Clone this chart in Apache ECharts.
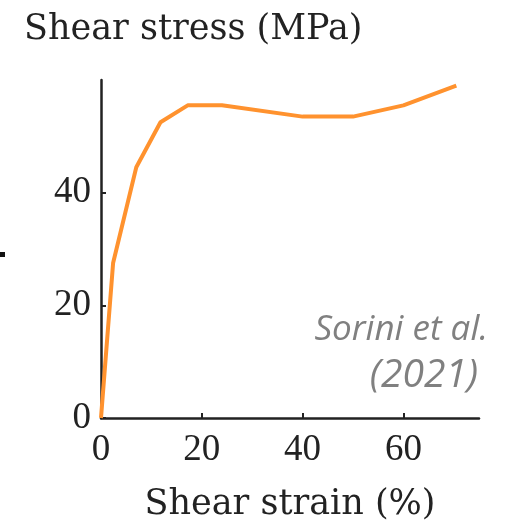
<!DOCTYPE html>
<html><head><meta charset="utf-8">
<script src="https://cdn.jsdelivr.net/npm/echarts@6/dist/echarts.min.js"></script>
<style>html,body{margin:0;padding:0;background:#fff}#c{width:531px;height:527px}</style>
</head><body><div id="c"></div>
<script>
const strain = [0, 2.4, 7, 11.8, 17.2, 24, 40, 50, 60, 70.5];
const stress = [0, 27.5, 44.5, 52.5, 55.5, 55.5, 53.5, 53.5, 55.5, 59];
const xTicks = [0, 20, 40, 60];
const yTicks = [0, 20, 40];
const serif = 'DejaVu Serif';
const num = 'Liberation Serif';
const chart = echarts.init(document.getElementById('c'));
chart.setOption({
  animation: false,
  grid: {left: 101, top: 80, width: 378, height: 340},
  xAxis: {
    type: 'value', min: 0, max: 75,
    name: 'Shear strain (%)', nameLocation: 'middle', nameGap: 69,
    nameTextStyle: {fontFamily: serif, fontSize: 35, color: '#222'},
    axisLine: {lineStyle: {color: '#222', width: 2.5}},
    axisTick: {show: true, inside: true, length: 5, lineStyle: {color: '#222', width: 2}, customValues: xTicks},
    axisLabel: {customValues: xTicks, fontFamily: num, fontSize: 37, color: '#222', margin: 14},
    splitLine: {show: false}
  },
  yAxis: {
    type: 'value', min: 0, max: 60,
    axisLine: {show: true, lineStyle: {color: '#222', width: 2.5}},
    axisTick: {show: true, inside: true, length: 5, lineStyle: {color: '#222', width: 2}, customValues: yTicks},
    axisLabel: {customValues: yTicks, fontFamily: num, fontSize: 37, color: '#222', margin: 10},
    splitLine: {show: false}
  },
  graphic: [
    {type: 'text', left: 24, top: 12, style: {text: 'Shear stress (MPa)', font: '35px "DejaVu Serif"', fill: '#222'}},
    {type: 'text', right: 43, top: 313, style: {text: 'Sorini et al.', font: 'italic 35px "Open Sans"', fill: '#808080'}},
    {type: 'text', right: 53, top: 356, style: {text: '(2021)', font: 'italic 39px "Open Sans"', fill: '#808080'}},
    {type: 'rect', shape: {x: 0, y: 252, width: 5, height: 5}, style: {fill: '#111'}}
  ],
  series: [{
    type: 'line', data: strain.map((x, i) => [x, stress[i]]),
    showSymbol: false, lineStyle: {color: '#FF922E', width: 4}, itemStyle: {color: '#FF922E'}
  }]
});
</script></body></html>
